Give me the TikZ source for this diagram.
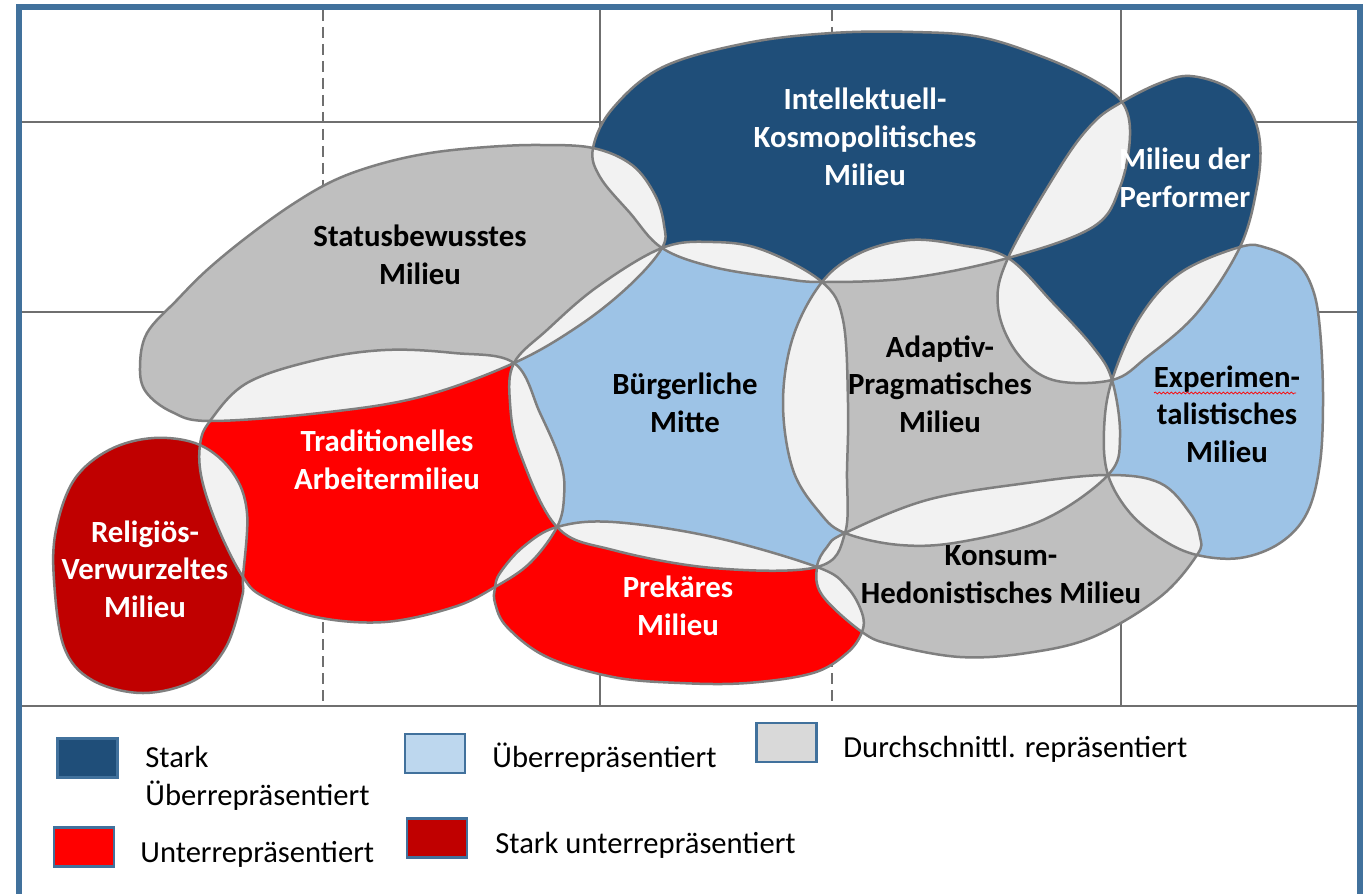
\documentclass[tikz,border=0pt]{standalone}
\usepackage{fontspec}
\setmainfont{Carlito}
\usetikzlibrary{decorations.pathmorphing}
\definecolor{frameblue}{HTML}{41719C}
\definecolor{darkblue}{HTML}{1F4E79}
\definecolor{lightblue}{HTML}{9DC3E6}
\definecolor{paleblue}{HTML}{BDD7EE}
\definecolor{midgray}{HTML}{BFBFBF}
\definecolor{palegray}{HTML}{D9D9D9}
\definecolor{lensgray}{HTML}{F2F2F2}
\definecolor{brightred}{HTML}{FF0000}
\definecolor{darkred}{HTML}{C00000}
\definecolor{edgegray}{HTML}{7F7F7F}
\definecolor{gridgray}{HTML}{6F6F6F}

% fill the common part of two milieu outlines
\newcommand\overlaplens[2]{\begin{scope}\clip #1; \fill[lensgray] #2; \end{scope}}

\begin{document}
\begin{tikzpicture}[x=0.5pt,y=-0.5pt,
  gridline/.style={gridgray,line width=1pt},
  griddash/.style={gridgray,line width=1pt,dash pattern=on 5.5pt off 3pt},
  milieu/.style={draw=edgegray,line width=1.25pt},
  mtext/.style={font=\fontsize{15.4}{18.75}\selectfont\bfseries,align=center,anchor=base,inner sep=0pt},
  legbox/.style={draw=frameblue,line width=1.1pt,minimum width=30pt,minimum height=19.5pt,inner sep=0pt},
  legtext/.style={font=\fontsize{15.3}{19}\selectfont,align=left,anchor=base west,inner sep=0pt}]

\useasboundingbox (0,0) rectangle (1368,893);
\fill[white] (0,0) rectangle (1368,893);

% grid of the social space
\draw[gridline] (21,122) -- (1358,122);
\draw[gridline] (21,312) -- (1358,312);
\draw[gridline] (21,706) -- (1358,706);
\draw[griddash] (323,10) -- (323,706);
\draw[gridline] (600,10) -- (600,706);
\draw[griddash] (832,10) -- (832,706);
\draw[gridline] (1121,10) -- (1121,706);

% milieu outlines
\def\shpStatus{plot[smooth cycle,tension=0.6] coordinates {(140,367) (147,333) (177,300) (207,270) (247,237) (293,204) (335,180) (380,164) (430,153) (487,147) (540,145) (593,148) (632,165) (655,195) (664,225) (662,248) (630,285) (580,325) (514,363) (420,397) (320,413) (210,421) (172,412) (146,392)}}
\def\shpIntel{plot[smooth cycle,tension=0.6] coordinates {(593,148) (613,108) (663,67) (747,43) (832,33) (913,32) (980,37) (1043,57) (1093,80) (1122,102) (1130,135) (1120,187) (1093,227) (1008,258) (910,278) (822,282) (780,278) (713,267) (662,248) (630,213) (600,177)}}
\def\shpPerf{plot[smooth cycle,tension=0.6] coordinates {(1112,380) (1053,380) (1017,353) (998,307) (1008,258) (1060,167) (1093,123) (1122,102) (1160,83) (1190,76) (1227,87) (1250,110) (1260,143) (1257,187) (1240,247) (1197,313) (1147,357)}}
\def\shpExper{plot[smooth cycle,tension=0.6] coordinates {(1112,380) (1140,317) (1180,273) (1240,247) (1267,248) (1297,263) (1313,290) (1320,330) (1323,397) (1320,463) (1307,513) (1280,543) (1240,558) (1197,555) (1163,540) (1130,513) (1108,475) (1104,430)}}
\def\shpAdapt{plot[smooth cycle,tension=0.6] coordinates {(822,282) (860,253) (910,240) (960,245) (1008,258) (1053,303) (1093,347) (1112,380) (1120,437) (1108,475) (1043,520) (960,542) (900,545) (845,533) (820,513) (793,470) (783,403) (793,337)}}
\def\shpBuerg{plot[smooth cycle,tension=0.6] coordinates {(514,363) (547,330) (597,287) (662,248) (713,242) (763,250) (822,282) (843,320) (848,403) (847,470) (845,533) (817,567) (713,568) (613,550) (557,527) (520,453) (510,403)}}
\def\shpTrad{plot[smooth cycle,tension=0.6] coordinates {(210,421) (247,383) (316,360) (385,350) (454,353) (514,363) (540,413) (561,463) (564,497) (557,527) (530,563) (495,587) (454,607) (385,622) (316,617) (264,597) (243,577) (219,530) (202,480) (200,445)}}
\def\shpRelig{plot[smooth cycle,tension=0.6] coordinates {(200,445) (154,438) (109,450) (74,480) (56,530) (54,580) (64,647) (92,680) (143,693) (195,680) (226,647) (242,597) (243,577) (247,513) (233,473)}}
\def\shpPrek{plot[smooth cycle,tension=0.6] coordinates {(495,588) (500,573) (523,547) (557,527) (613,522) (713,537) (817,567) (847,587) (862,613) (862,632) (847,653) (813,673) (747,683) (680,683) (613,677) (547,657) (507,627) (495,603)}}
\def\shpKonsum{plot[smooth cycle,tension=0.6] coordinates {(817,567) (827,547) (845,533) (927,500) (1027,483) (1108,475) (1160,483) (1190,513) (1200,537) (1197,555) (1160,597) (1093,637) (1027,653) (960,657) (893,645) (862,632) (822,595)}}

% area fills
\fill[midgray] \shpStatus;
\fill[darkblue] \shpIntel;
\fill[darkblue] \shpPerf;
\fill[lightblue] \shpExper;
\fill[midgray] \shpAdapt;
\fill[lightblue] \shpBuerg;
\fill[brightred] \shpTrad;
\fill[darkred] \shpRelig;
\fill[brightred] \shpPrek;
\fill[midgray] \shpKonsum;

% overlaps between neighbouring milieus
\overlaplens{\shpStatus}{\shpIntel}
\overlaplens{\shpStatus}{\shpBuerg}
\overlaplens{\shpStatus}{\shpTrad}
\overlaplens{\shpIntel}{\shpBuerg}
\overlaplens{\shpIntel}{\shpAdapt}
\overlaplens{\shpIntel}{\shpPerf}
\overlaplens{\shpPerf}{\shpAdapt}
\overlaplens{\shpPerf}{\shpExper}
\overlaplens{\shpExper}{\shpAdapt}
\overlaplens{\shpExper}{\shpKonsum}
\overlaplens{\shpAdapt}{\shpBuerg}
\overlaplens{\shpAdapt}{\shpKonsum}
\overlaplens{\shpBuerg}{\shpTrad}
\overlaplens{\shpBuerg}{\shpPrek}
\overlaplens{\shpBuerg}{\shpKonsum}
\overlaplens{\shpTrad}{\shpRelig}
\overlaplens{\shpTrad}{\shpPrek}
\overlaplens{\shpPrek}{\shpKonsum}

% outlines on top
\draw[milieu] \shpStatus;
\draw[milieu] \shpIntel;
\draw[milieu] \shpPerf;
\draw[milieu] \shpExper;
\draw[milieu] \shpAdapt;
\draw[milieu] \shpBuerg;
\draw[milieu] \shpTrad;
\draw[milieu] \shpRelig;
\draw[milieu] \shpPrek;
\draw[milieu] \shpKonsum;

% milieu names (anchored at the baseline of the last line)
\node[mtext] (status) at (420,284) {Statusbewusstes\\Milieu};
\node[mtext,white] (intel) at (865,185) {Intellektuell-\\Kosmopolitisches\\Milieu};
\node[mtext,white] (perf) at (1185,207) {Milieu der\\Performer};
\node[mtext] (buerg) at (685,432) {Bürgerliche\\Mitte};
\node[mtext] (adapt) at (940,432) {Adaptiv-\\Pragmatisches\\Milieu};
\node[mtext] (exper) at (1227,462) {Experimen-\\talistisches\\Milieu};
\node[mtext,white] (trad) at (387,489) {Traditionelles\\Arbeitermilieu};
\node[mtext,white] (relig) at (145,617) {Religiös-\\Verwurzeltes\\Milieu};
\node[mtext,white] (prek) at (678,635) {Prekäres\\Milieu};
\node[mtext] (konsum) at (1001,603) {Konsum-\\Hedonistisches Milieu};
\coordinate (squigA) at (1154,393);
\coordinate (squigB) at (1296,393);
\draw[red,line width=0.35pt,decorate,decoration={snake,amplitude=0.5pt,segment length=2pt}] (squigA) -- (squigB);

% legend
\node[legbox,fill=darkblue] (kdarkblue) at (87.5,758) {};
\node[legbox,fill=brightred] (kred) at (84,847) {};
\node[legbox,fill=paleblue] (klightblue) at (435,753.5) {};
\node[legbox,fill=darkred] (kdarkred) at (437,838) {};
\node[legbox,fill=palegray] (kgray) at (786.5,742.5) {};
\node[legtext] (tdarkblue) at (145,805) {Stark\\Überrepräsentiert};
\node[legtext] (tred) at (140,862) {Unterrepräsentiert};
\node[legtext] (tlightblue) at (492,767) {Überrepräsentiert};
\node[legtext] (tdarkred) at (495,853) {Stark unterrepräsentiert};
\node[legtext] (tgray) at (843,757) {Durchschnittl. repräsentiert};

% frame
\draw[frameblue,line width=3pt] (19,900) -- (19,7) -- (1360,7) -- (1360,900);
\end{tikzpicture}
\end{document}
